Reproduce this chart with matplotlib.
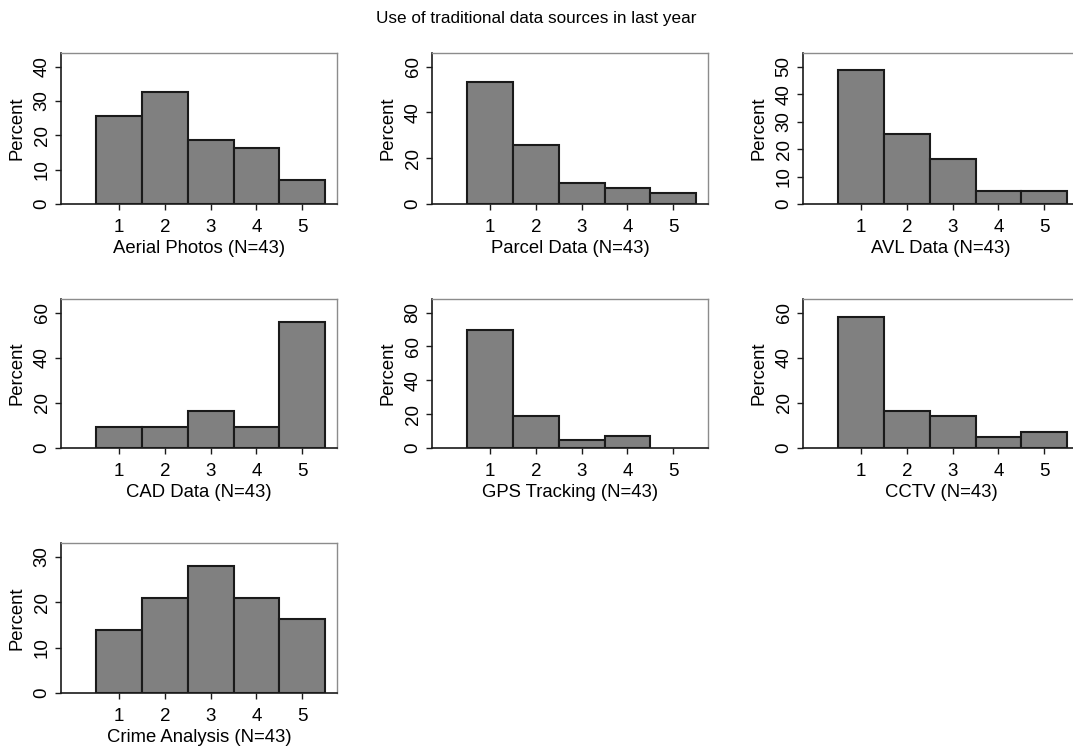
import numpy as np
import matplotlib
matplotlib.use("Agg")
import matplotlib.pyplot as plt

plt.rcParams['font.family'] = ['Liberation Sans', 'DejaVu Sans']

# Data: response counts per category (N=43 each), shown as percent
N = 43
categories = [1, 2, 3, 4, 5]
aerial_photos = [11, 14, 8, 7, 3]
parcel_data = [23, 11, 4, 3, 2]
avl_data = [21, 11, 7, 2, 2]
cad_data = [4, 4, 7, 4, 24]
gps_tracking = [30, 8, 2, 3, 0]
cctv = [25, 7, 6, 2, 3]
crime_analysis = [6, 9, 12, 9, 7]

panel_labels = ["Aerial Photos", "Parcel Data", "AVL Data",
                "CAD Data", "GPS Tracking", "CCTV", "Crime Analysis"]
panel_counts = [aerial_photos, parcel_data, avl_data,
                cad_data, gps_tracking, cctv, crime_analysis]
ytick_max = [40, 60, 50, 60, 80, 60, 30]
ytick_step = [10, 20, 10, 20, 20, 20, 10]

W, H = 1073, 748
fig = plt.figure(figsize=(W / 100, H / 100), dpi=100)

col_left = [61, 432, 803]
ax_w = 276
rows = [(53, 204), (299, 448), (543, 693)]

fig.text(0.5, 1 - 18 / H, "Use of traditional data sources in last year",
         ha='center', va='center', fontsize=12.3)

for i, (lab, counts) in enumerate(zip(panel_labels, panel_counts)):
    r, c = divmod(i, 3)
    top, bot = rows[r]
    ax = fig.add_axes([col_left[c] / W, 1 - bot / H, ax_w / W, (bot - top) / H])
    pct = np.array(counts) / N * 100
    x = np.array(categories)
    keep = pct > 0
    ax.bar(x[keep], pct[keep], width=1.0, color='#808080',
           edgecolor='#1a1a1a', linewidth=1.5, zorder=2)
    ax.set_xlim(-0.27, 5.76)
    ax.set_ylim(0, ytick_max[i] * 1.1)
    ax.set_xticks(categories)
    ax.set_yticks(np.arange(0, ytick_max[i] + 1, ytick_step[i]))
    ax.tick_params(axis='both', direction='out', length=4.5, width=1,
                   labelsize=13.5, color='#1a1a1a')
    ax.tick_params(axis='y', labelrotation=90, pad=3)
    for t in ax.get_yticklabels():
        t.set_va('center')
    ax.tick_params(axis='x', pad=6.5)
    for side in ['top', 'right']:
        ax.spines[side].set_color('#8c8c8c')
        ax.spines[side].set_linewidth(1.0)
    for side in ['left', 'bottom']:
        ax.spines[side].set_color('#1a1a1a')
        ax.spines[side].set_linewidth(1.2)
    ax.set_ylabel("Percent", fontsize=13.3)
    ax.yaxis.set_label_coords(-0.128, 0.5)
    ax.set_xlabel(f"{lab} (N={N})", fontsize=13.3, labelpad=3)

fig.savefig("out.png", dpi=100)
